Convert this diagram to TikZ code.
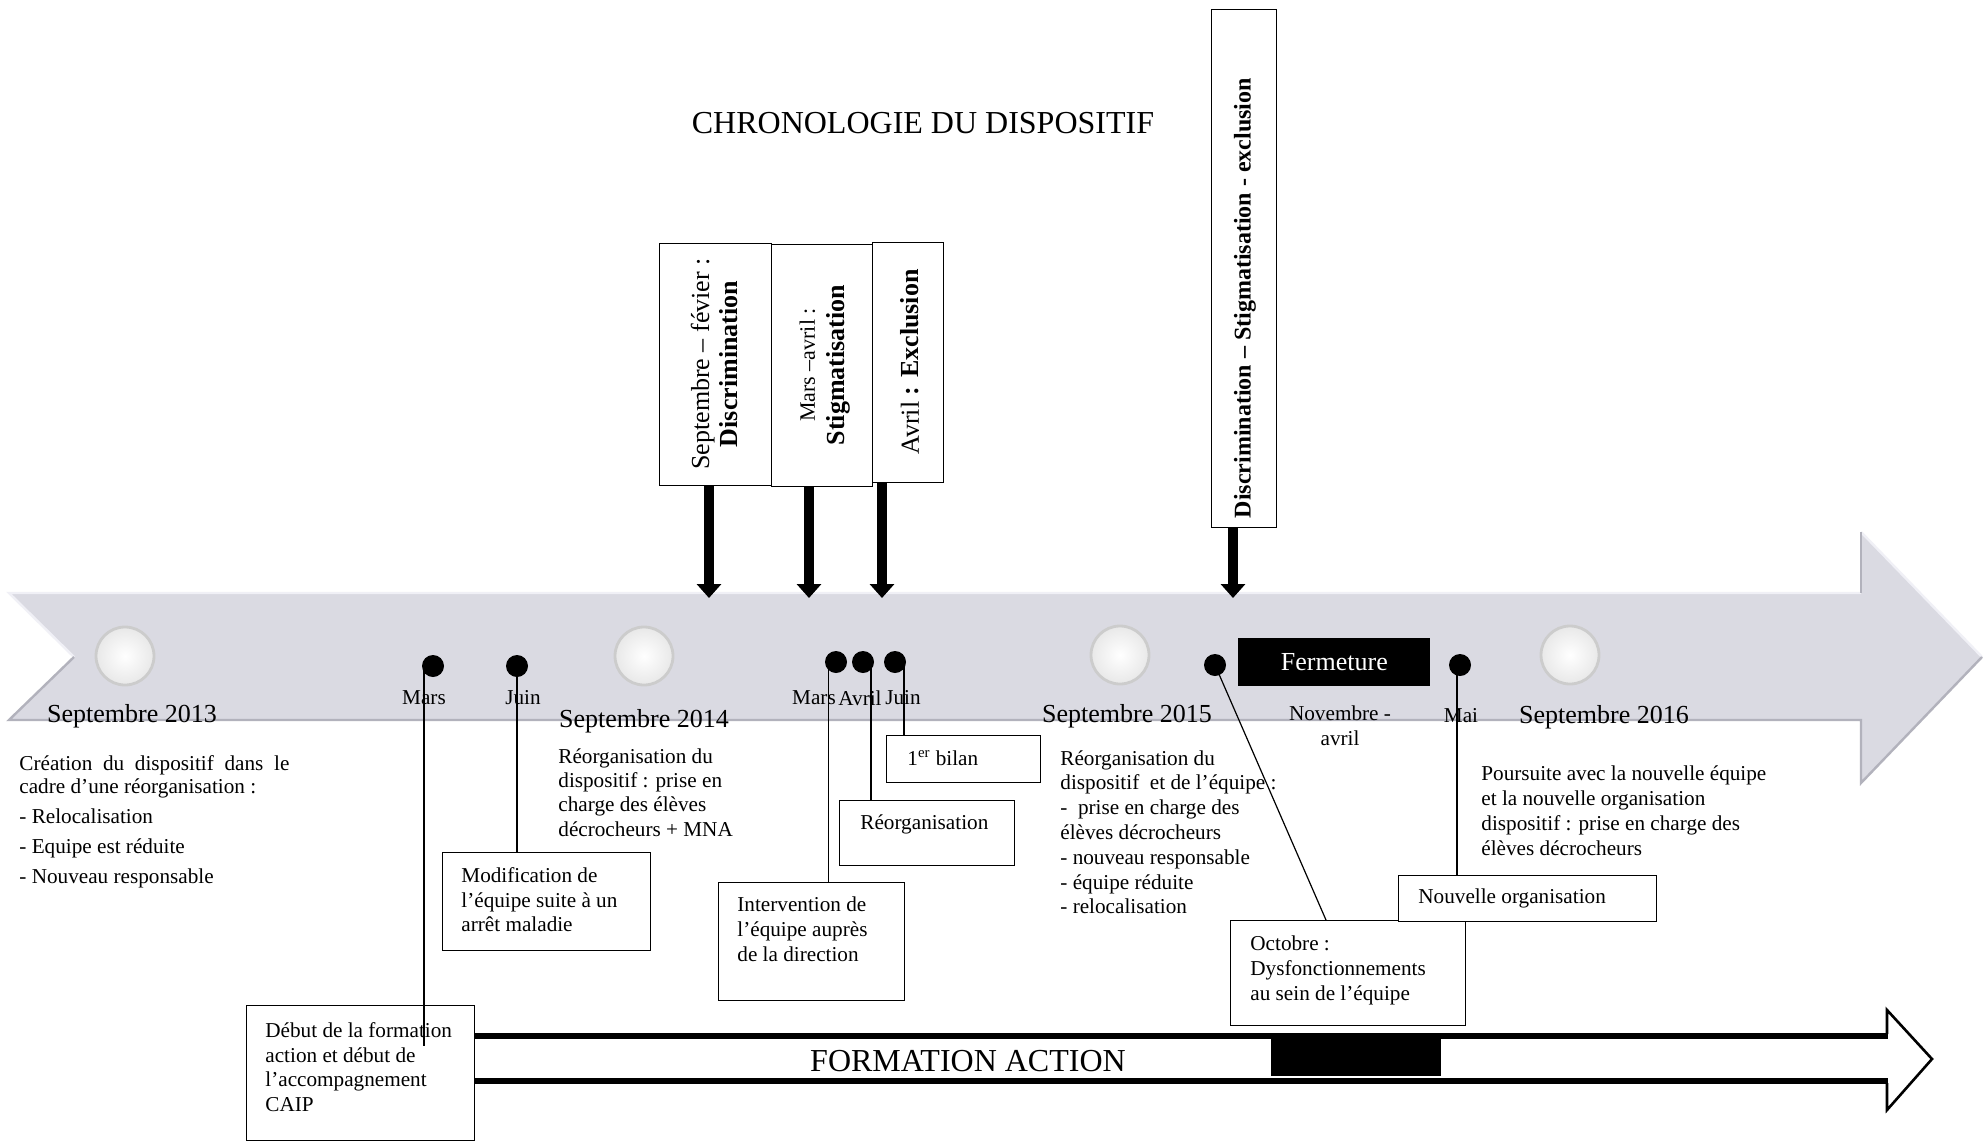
\documentclass[tikz,border=0pt]{standalone}
\usepackage{fontspec}
\setmainfont{Liberation Serif}
\usetikzlibrary{arrows.meta,calc}
\definecolor{band}{RGB}{218,218,226}
\definecolor{bandlight}{RGB}{240,240,246}
\definecolor{banddark}{RGB}{178,178,188}
\begin{document}
\begin{tikzpicture}[x=0.5pt,y=-0.5pt,
  body/.style={font=\fontsize{10.6}{12.4}\selectfont, inner sep=0pt, align=left},
  sept/.style={font=\fontsize{13}{15}\selectfont, inner sep=0pt},
  month/.style={font=\fontsize{10.6}{12.5}\selectfont, inner sep=0pt},
  tbox/.style={draw=black, line width=0.6pt, fill=white, inner sep=0pt, anchor=north west},
  vtext/.style={rotate=90, inner sep=0pt, font=\fontsize{13}{14}\selectfont},
  bdot/.style={circle, fill=black, minimum size=11pt, inner sep=0pt},
  knob/.style={circle, minimum size=29pt, inner sep=0pt, shading=radial, inner color=white, outer color=black!9, draw=black!20, line width=1.4pt},
  bigarrow/.style={line width=5pt, -{Triangle[width=12pt,length=7pt]}},
  link/.style={line width=0.6pt}]
\useasboundingbox (0,0) rectangle (1988,1141);
\fill[white] (0,0) rectangle (1988,1141);

% title
\node[font=\fontsize{16}{18}\selectfont, inner sep=0pt] (title) at (923,123) {CHRONOLOGIE DU DISPOSITIF};

% grey timeline band
\fill[band] (9,593) -- (1861,593) -- (1861,532) -- (1982,657) -- (1861,783) -- (1861,720) -- (9,720) -- (74,657) -- cycle;
\draw[bandlight, line width=1.2pt] (74,657) -- (9,593) -- (1861,593);
\draw[bandlight, line width=1.2pt] (1861,532) -- (1982,657);
\draw[banddark, line width=1.2pt] (1861,593) -- (1861,532);
\draw[banddark, line width=1.2pt] (74,657) -- (9,720) -- (1861,720) -- (1861,783) -- (1982,657);

% knobs
\node[knob] (k1) at (125,656) {};
\node[knob] (k2) at (644,656) {};
\node[knob] (k3) at (1120,655) {};
\node[knob] (k4) at (1570,655) {};

% year labels
\node[sept] (s13) at (132,716) {Septembre 2013};
\node[sept] (s14) at (644,721) {Septembre 2014};
\node[sept] (s15) at (1127,716) {Septembre 2015};
\node[sept] (s16) at (1604,717) {Septembre 2016};

% month labels
\node[month] (mM1) at (424,698) {Mars};
\node[month] (mJ1) at (523,698) {Juin};
\node[month] (mM2) at (814,698) {Mars};
\node[month] (mA2) at (860,698) {Avril};
\node[month] (mJ2) at (903,698) {Juin};
\node[month, align=center] (mNov) at (1340,726) {Novembre -\\avril};
\node[month] (mMai) at (1461,716) {Mai};

% Fermeture
\node[fill=black, text=white, minimum width=96pt, minimum height=24pt, inner sep=0pt, font=\fontsize{13}{15}\selectfont, anchor=north west] (ferm) at (1238,638) {\raisebox{-2pt}{Fermeture}};

% vertical boxes
\node[tbox, minimum width=56pt, minimum height=121pt] (v1) at (659,243) {};
\node[tbox, minimum width=50.5pt, minimum height=121pt] (v2) at (771,244) {};
\node[tbox, minimum width=35.5pt, minimum height=120pt] (v3) at (872,242) {};
\node[tbox, minimum width=32.5pt, minimum height=259pt] (v4) at (1211,9) {};
\node[vtext, align=center] (v1t) at (714,364) {Septembre – févier :\\\textbf{Discrimination}};
\node[vtext, align=center, font=\fontsize{13}{15}\selectfont] (v2t) at (825,365) {{\fontsize{11}{12}\selectfont Mars –avril :}\\\textbf{Stigmatisation}};
\node[vtext] (v3t) at (910,362) {Avril\textbf{ : Exclusion}};
\node[vtext, font=\fontsize{12}{14}\selectfont] (v4t) at (1245,298) {\textbf{Discrimination – Stigmatisation - exclusion}};

\coordinate (tip1) at (709,598);
\coordinate (tip2) at (809,598);
\coordinate (tip3) at (882,598);
\coordinate (tip4) at (1233,598);
\draw[bigarrow] (v1.south -| tip1) -- (tip1);
\draw[bigarrow] (v2.south -| tip2) -- (tip2);
\draw[bigarrow] (v3.south -| tip3) -- (tip3);
\draw[bigarrow] (v4.south -| tip4) -- (tip4);

% text blocks
\node[body, anchor=north west, font=\fontsize{10.6}{11.5}\selectfont] (b13) at (19,755) {\makebox[135pt][s]{Création du dispositif dans le}\\cadre d'une réorganisation :\\[3.5pt]- Relocalisation\\[3.5pt]- Equipe est réduite\\[3.5pt]- Nouveau responsable};
\node[body, anchor=north west, font=\fontsize{10.6}{12.2}\selectfont] (b14) at (558,748) {Réorganisation du\\dispositif : prise en\\charge des élèves\\décrocheurs + MNA};
\node[body, anchor=north west] (b15) at (1060,750) {Réorganisation du\\dispositif\ \ et de l’équipe :\\-\ \ prise en charge des\\élèves décrocheurs\\- nouveau responsable\\- équipe réduite\\- relocalisation};
\node[body, anchor=north west, font=\fontsize{10.6}{12.5}\selectfont] (b16) at (1481,765) {Poursuite avec la nouvelle équipe\\et la nouvelle organisation\\dispositif : prise en charge des\\élèves décrocheurs};

% event boxes
\node[tbox, minimum width=114pt, minimum height=67.5pt] (deb) at (246,1005) {};
\node[tbox, minimum width=104pt, minimum height=49pt] (mod) at (442,852) {};
\node[tbox, minimum width=93pt, minimum height=59pt] (inter) at (718,882) {};
\node[tbox, minimum width=87.5pt, minimum height=32.5pt] (reorg) at (839,800) {};
\node[tbox, minimum width=77pt, minimum height=23.5pt] (bilan) at (886,735) {};
\node[tbox, minimum width=117.5pt, minimum height=52.5pt] (oct) at (1230,920) {};
\node[tbox, minimum width=129pt, minimum height=23pt] (nouv) at (1398,875) {};

\node[body, anchor=north west] (debt) at (265,1022) {Début de la formation\\action et début de\\l’accompagnement\\CAIP};
\node[body, anchor=north west] (modt) at (461,867) {Modification de\\l’équipe suite à un\\arrêt maladie};
\node[body, anchor=north west, font=\fontsize{10.6}{12.7}\selectfont] (intert) at (737,896) {Intervention de\\l’équipe auprès\\de la direction};
\node[body, anchor=west] (reorgt) at (860,824) {Réorganisation};
\node[body, anchor=west] (bilant) at (907,758) {1\textsuperscript{er} bilan};
\node[body, anchor=north west, font=\fontsize{10.6}{12.5}\selectfont] (octt) at (1250,935) {Octobre :\\Dysfonctionnements\\au sein de l’équipe};
\node[body, anchor=west] (nouvt) at (1418,898) {Nouvelle organisation};

% FORMATION ACTION arrow
\draw[line width=3pt] (deb.east |- 0,1036) -- (1888,1036);
\draw[line width=3pt] (deb.east |- 0,1081) -- (1888,1081);
\draw[line width=1.3pt, line join=miter] (1887,1034) -- (1887,1010) -- (1932,1059) -- (1887,1110) -- (1887,1083);
\node[fill=black, anchor=north west, minimum width=85pt, minimum height=19.5pt, inner sep=0pt] (blk) at (1271,1037) {};
\node[font=\fontsize{16}{18}\selectfont, inner sep=0pt] (fa) at (968,1061) {FORMATION ACTION};

% dots
\node[bdot] (dM1) at (433,666) {};
\node[bdot] (dJ1) at (517,666) {};
\node[bdot] (dM2) at (836,662) {};
\node[bdot] (dA2) at (863,662) {};
\node[bdot] (dJ2) at (895,662) {};
\node[bdot] (dO) at (1215,665) {};
\node[bdot] (dMai) at (1460,665) {};

% connectors
\coordinate (endM1) at (424,1046);
\coordinate (lM2) at ($(dM2.center)+(-7.5,0)$);
\coordinate (lA2) at ($(dA2.center)+(8,0)$);
\coordinate (lJ2) at ($(dJ2.center)+(9,0)$);
\coordinate (lMai) at ($(dMai.center)+(-3,0)$);
\coordinate (octin) at ($(oct.north west)+(96,0)$);
\draw[link] (endM1 |- dM1.center) -- (endM1);
\draw[link] (dJ1.center) -- (dJ1.center |- mod.north);
\draw[link] (lM2) -- (lM2 |- inter.north);
\draw[link] (lA2) -- (lA2 |- reorg.north);
\draw[link] (lJ2) -- (lJ2 |- bilan.north);
\draw[link] (dO.center) -- (octin);
\draw[link] (lMai) -- (lMai |- nouv.north);
\end{tikzpicture}
\end{document}
